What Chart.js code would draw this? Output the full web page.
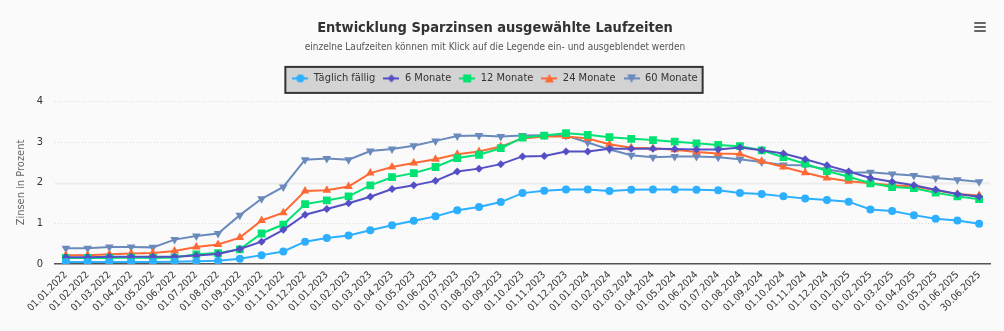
<!DOCTYPE html>
<html lang="de">
<head>
<meta charset="utf-8">
<title>Entwicklung Sparzinsen</title>
<script src="https://cdn.jsdelivr.net/npm/chart.js@4.4.1/dist/chart.umd.min.js"></script>
<style>
  html, body { margin: 0; padding: 0; background: #fafafa; }
  #wrap { position: relative; width: 1004px; height: 331px; }
  #menu { position: absolute; left: 974px; top: 22px; width: 12px; }
  #menu span { display: block; height: 2px; margin-bottom: 2px; background: #666; border-radius: 1px; }
</style>
</head>
<body>
<div id="wrap">
  <canvas id="chart"></canvas>
  <div id="menu"><span></span><span></span><span></span></div>
</div>
<script>
const labels = [
  '01.01.2022', '01.02.2022', '01.03.2022', '01.04.2022', '01.05.2022', '01.06.2022',
  '01.07.2022', '01.08.2022', '01.09.2022', '01.10.2022', '01.11.2022', '01.12.2022',
  '01.01.2023', '01.02.2023', '01.03.2023', '01.04.2023', '01.05.2023', '01.06.2023',
  '01.07.2023', '01.08.2023', '01.09.2023', '01.10.2023', '01.11.2023', '01.12.2023',
  '01.01.2024', '01.02.2024', '01.03.2024', '01.04.2024', '01.05.2024', '01.06.2024',
  '01.07.2024', '01.08.2024', '01.09.2024', '01.10.2024', '01.11.2024', '01.12.2024',
  '01.01.2025', '01.02.2025', '01.03.2025', '01.04.2025', '01.05.2025', '01.06.2025',
  '30.06.2025'
];

// Zinssätze in Prozent je Stichtag
const taeglich = [0.05, 0.05, 0.05, 0.05, 0.05, 0.06, 0.07, 0.08, 0.13, 0.22, 0.31, 0.55,
  0.64, 0.70, 0.83, 0.95, 1.06, 1.17, 1.32, 1.40, 1.52, 1.74, 1.80, 1.83,
  1.83, 1.79, 1.82, 1.83, 1.83, 1.82, 1.81, 1.74, 1.72, 1.66, 1.61, 1.57,
  1.53, 1.34, 1.30, 1.20, 1.11, 1.07, 0.99];
const monate6 = [0.17, 0.17, 0.18, 0.18, 0.18, 0.18, 0.21, 0.25, 0.37, 0.55, 0.84, 1.21,
  1.35, 1.49, 1.65, 1.84, 1.93, 2.04, 2.27, 2.34, 2.45, 2.64, 2.65, 2.76,
  2.76, 2.83, 2.83, 2.83, 2.82, 2.81, 2.81, 2.86, 2.79, 2.71, 2.57, 2.42,
  2.27, 2.11, 2.02, 1.93, 1.82, 1.72, 1.65];
const monate12 = [0.15, 0.15, 0.15, 0.16, 0.15, 0.16, 0.24, 0.27, 0.36, 0.75, 0.97, 1.47,
  1.56, 1.66, 1.93, 2.13, 2.23, 2.38, 2.60, 2.68, 2.84, 3.10, 3.15, 3.21,
  3.17, 3.11, 3.07, 3.04, 3.00, 2.96, 2.92, 2.89, 2.79, 2.62, 2.46, 2.28,
  2.14, 1.98, 1.89, 1.86, 1.75, 1.66, 1.59];
const monate24 = [0.22, 0.22, 0.24, 0.26, 0.27, 0.32, 0.42, 0.48, 0.65, 1.07, 1.26, 1.79,
  1.81, 1.90, 2.23, 2.38, 2.48, 2.57, 2.69, 2.76, 2.88, 3.08, 3.13, 3.13,
  3.08, 2.94, 2.85, 2.84, 2.80, 2.75, 2.71, 2.70, 2.52, 2.38, 2.24, 2.11,
  2.03, 1.98, 1.93, 1.90, 1.81, 1.72, 1.68];
const monate60 = [0.39, 0.39, 0.42, 0.42, 0.41, 0.60, 0.69, 0.75, 1.20, 1.60, 1.89, 2.56,
  2.59, 2.56, 2.77, 2.82, 2.90, 3.02, 3.14, 3.15, 3.13, 3.15, 3.16, 3.15,
  2.98, 2.81, 2.67, 2.62, 2.64, 2.64, 2.62, 2.57, 2.50, 2.43, 2.42, 2.32,
  2.24, 2.25, 2.21, 2.17, 2.11, 2.07, 2.02];

const yTicks = [0, 1, 2, 3, 4];

const FONT = '"Liberation Sans Narrow", "DejaVu Sans Condensed", "Open Sans", sans-serif';
Chart.defaults.font.family = FONT;
Chart.defaults.color = '#333';

// kleines Legendensymbol: Linie mit Marker in der Mitte
function legendSymbol(color, shape) {
  const c = document.createElement('canvas');
  c.width = 16; c.height = 12;
  const g = c.getContext('2d');
  g.strokeStyle = color; g.fillStyle = color; g.lineWidth = 2;
  g.beginPath(); g.moveTo(0, 6); g.lineTo(16, 6); g.stroke();
  g.beginPath();
  if (shape === 'circle') g.arc(8, 6, 4, 0, Math.PI * 2);
  else if (shape === 'diamond') { g.moveTo(8, 2); g.lineTo(12, 6); g.lineTo(8, 10); g.lineTo(4, 6); }
  else if (shape === 'square') g.rect(4, 2, 8, 8);
  else if (shape === 'up') { g.moveTo(8, 1.5); g.lineTo(12.5, 10); g.lineTo(3.5, 10); }
  else if (shape === 'down') { g.moveTo(3.5, 2); g.lineTo(12.5, 2); g.lineTo(8, 10.5); }
  g.closePath(); g.fill();
  return c;
}

function series(label, data, color, pointStyle, radius, rotation, shape) {
  return {
    label, data,
    borderColor: color, backgroundColor: color,
    borderWidth: 2, tension: 0,
    pointStyle, pointRadius: radius, pointHoverRadius: radius + 1,
    pointRotation: rotation, pointBorderWidth: 0,
    legendSymbol: legendSymbol(color, shape)
  };
}

const datasets = [
  series('Täglich fällig', taeglich, '#2caffe', 'circle', 4, 0, 'circle'),
  series('6 Monate', monate6, '#544fc5', 'rectRot', 4, 0, 'diamond'),
  series('12 Monate', monate12, '#00e272', 'rect', 5.5, 0, 'square'),
  series('24 Monate', monate24, '#fe6a35', 'triangle', 5, 0, 'up'),
  series('60 Monate', monate60, '#6b8abc', 'triangle', 5, 180, 'down')
];

// Gitterlinien: gepunktet, bei 2 % durchgezogen
const gridLines = {
  id: 'gridLines',
  beforeDatasetsDraw(chart) {
    const { ctx, chartArea, scales } = chart;
    ctx.save();
    yTicks.forEach(v => {
      if (v === 0) return;
      const y = Math.round(scales.y.getPixelForValue(v)) + 0.5;
      ctx.beginPath();
      if (v === 2) { ctx.strokeStyle = '#ececec'; ctx.lineWidth = 2; ctx.setLineDash([]); }
      else { ctx.strokeStyle = '#dcdcdc'; ctx.lineWidth = 1; ctx.setLineDash([1, 2]); }
      ctx.moveTo(chartArea.left, y);
      ctx.lineTo(chartArea.right, y);
      ctx.stroke();
    });
    ctx.restore();
  }
};

// grauer Kasten mit Rahmen hinter der Legende, etwas Abstand darunter
const legendBox = {
  id: 'legendBox',
  afterInit(chart) {
    const lg = chart.legend;
    const fit = lg.fit;
    lg.fit = function () {
      fit.call(this);
      this.height += 7;
    };
  },
  beforeDraw(chart) {
    const lg = chart.legend;
    if (!lg || !lg.legendHitBoxes || !lg.legendHitBoxes.length) return;
    const boxes = lg.legendHitBoxes;
    const left = Math.min(...boxes.map(b => b.left)) - 7;
    const right = Math.max(...boxes.map(b => b.left + b.width)) + 5;
    const top = Math.min(...boxes.map(b => b.top)) - 6;
    const bottom = Math.max(...boxes.map(b => b.top + b.height)) + 9;
    const ctx = chart.ctx;
    ctx.save();
    ctx.fillStyle = '#d3d3d3';
    ctx.fillRect(left, top, right - left, bottom - top);
    ctx.strokeStyle = '#333';
    ctx.lineWidth = 2;
    ctx.strokeRect(left, top, right - left, bottom - top);
    ctx.restore();
  }
};

new Chart(document.getElementById('chart'), {
  type: 'line',
  data: { labels, datasets },
  plugins: [gridLines, legendBox],
  options: {
    responsive: true,
    maintainAspectRatio: false,
    animation: false,
    layout: { padding: { left: 0, right: 14, top: 0, bottom: 12 } },
    plugins: {
      title: {
        display: true,
        text: 'Entwicklung Sparzinsen ausgewählte Laufzeiten',
        color: '#333',
        font: { size: 14.5, weight: 'bold' },
        padding: { top: 19.5, bottom: 5 }
      },
      subtitle: {
        display: true,
        text: 'einzelne Laufzeiten können mit Klick auf die Legende ein- und ausgeblendet werden',
        color: '#555',
        font: { size: 10 },
        padding: { top: 0, bottom: 11 }
      },
      legend: {
        display: true,
        position: 'top',
        labels: {
          color: '#333',
          font: { size: 11 },
          usePointStyle: true,
          pointStyleWidth: 16,
          padding: 8,
          generateLabels(chart) {
            return chart.data.datasets.map((ds, i) => ({
              text: ds.label,
              pointStyle: ds.legendSymbol,
              fillStyle: ds.borderColor,
              strokeStyle: ds.borderColor,
              lineWidth: 0,
              hidden: !chart.isDatasetVisible(i),
              datasetIndex: i,
              fontColor: '#333'
            }));
          }
        }
      },
      tooltip: { enabled: true }
    },
    scales: {
      x: {
        offset: true,
        grid: { display: false, drawTicks: false },
        border: { display: true, color: '#555', width: 1.5 },
        ticks: { autoSkip: false, minRotation: 45, maxRotation: 45, color: '#333', font: { size: 10 }, padding: 5 },
        // die schräge erste Beschriftung darf in den Bereich der y-Achse ragen
        afterFit(scale) { scale.paddingLeft = Math.min(scale.paddingLeft, 40); }
      },
      y: {
        min: 0,
        max: 4,
        grid: { display: false, drawTicks: false },
        border: { display: false },
        ticks: { stepSize: 1, color: '#333', font: { size: 11 }, padding: 12 },
        title: { display: true, text: 'Zinsen in Prozent', color: '#666', font: { size: 11 }, padding: { top: 15, bottom: 2 } },
        afterFit(scale) { scale.width = 55; }
      }
    }
  }
});
</script>
</body>
</html>
